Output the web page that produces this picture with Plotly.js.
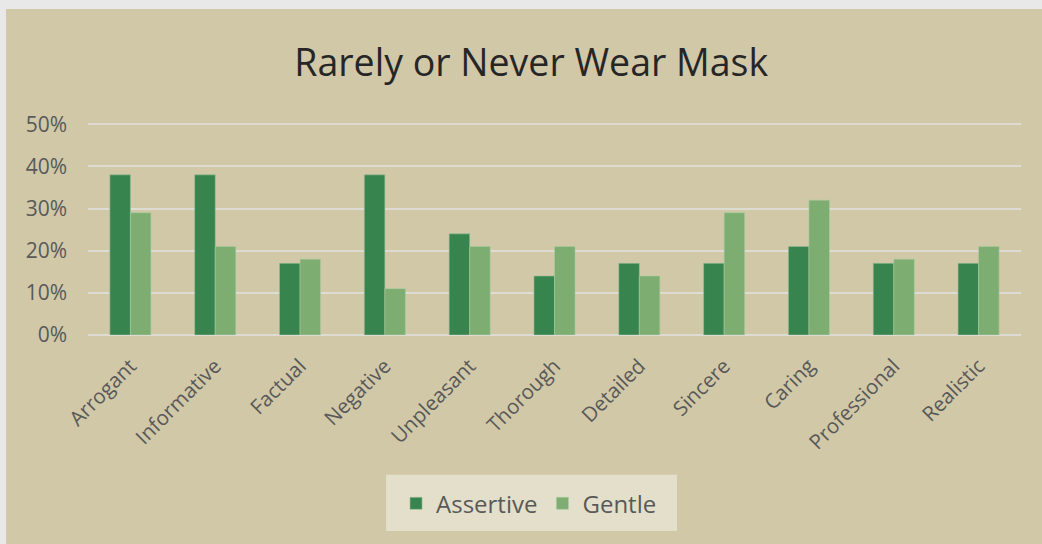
<!DOCTYPE html>
<html>
<head>
<meta charset="utf-8">
<script src="https://cdn.plot.ly/plotly-3.0.1.min.js"></script>
<style>
html, body { margin:0; padding:0; background:#e8e8e8; width:1042px; height:544px; overflow:hidden; }
#chart { position:absolute; left:6px; top:9px; width:1036px; height:535px; }
</style>
</head>
<body>
<div id="chart"></div>
<script>
const categories = ["Arrogant","Informative","Factual","Negative","Unpleasant","Thorough","Detailed","Sincere","Caring","Professional","Realistic"];
const assertive = [0.38,0.38,0.17,0.38,0.24,0.14,0.17,0.17,0.21,0.17,0.17];
const gentle = [0.29,0.21,0.18,0.11,0.21,0.21,0.14,0.29,0.32,0.18,0.21];
const yTickVals = [0,0.1,0.2,0.3,0.4,0.5];
const yTickText = ["0%","10%","20%","30%","40%","50%"];

const traces = [
  {type:"bar", name:"Assertive", x:categories, y:assertive,
   marker:{color:"#38844f", line:{color:"rgba(150,190,150,0.6)", width:1}}},
  {type:"bar", name:"Gentle", x:categories, y:gentle,
   marker:{color:"#7dad71", line:{color:"rgba(170,205,160,0.6)", width:1}}}
];
const layout = {
  width:1036, height:535,
  paper_bgcolor:"#d1c8a8", plot_bgcolor:"#d1c8a8",
  font:{family:"Open Sans, sans-serif", color:"#595959"},
  title:{text:"Rarely or Never Wear Mask", font:{size:37.5, color:"#262626"}, x:0.507, xref:"container", xanchor:"center", y:0.9, yanchor:"middle", yref:"container"},
  margin:{l:82, r:21, t:114, b:209},
  barmode:"group", bargap:0.516, bargroupgap:0,
  xaxis:{tickangle:-45, tickfont:{size:20.5, color:"#595959"}, showgrid:false, showline:false, ticks:"", automargin:false, ticklabelstandoff:14},
  yaxis:{range:[0,0.503], tickvals:yTickVals, ticktext:yTickText, tickfont:{size:21, color:"#595959"},
         gridcolor:"#dedcd2", gridwidth:2, zeroline:true, zerolinecolor:"#dedcd2", zerolinewidth:2, showline:false, ticks:"", automargin:false, fixedrange:true, ticklabelstandoff:20},
  shapes:[{type:"rect", xref:"paper", yref:"paper", x0:0.3194, x1:0.6313, y0:-0.924, y1:-0.659, fillcolor:"#e3dfca", line:{width:0}, layer:"below"}],
  showlegend:true,
  legend:{orientation:"h", x:0.4727, xanchor:"center", y:-0.796, yanchor:"middle", bgcolor:"rgba(0,0,0,0)",
          font:{size:24, color:"#595959"}, traceorder:"normal", itemwidth:30}
};
Plotly.newPlot("chart", traces, layout, {displayModeBar:false, staticPlot:true});
</script>
</body>
</html>
